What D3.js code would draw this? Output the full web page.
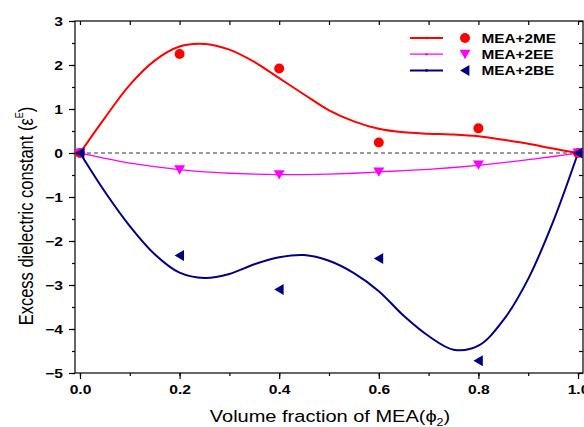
<!DOCTYPE html>
<html><head><meta charset="utf-8">
<script src="https://cdn.jsdelivr.net/npm/d3@7"></script>
<style>body{margin:0;background:#fff}svg{display:block}</style>
</head><body>
<script>
// Experimental points
const xPts = [0, 0.2, 0.4, 0.6, 0.8, 1.0];
const meY = [0, 2.25, 1.92, 0.24, 0.56, 0];
const eeY = [0, -0.38, -0.49, -0.43, -0.27, 0];
const beY = [0, -2.33, -3.1, -2.4, -4.72, 0];
// Fitted curves
const xFit = [0,0.05,0.1,0.15,0.2,0.25,0.3,0.35,0.4,0.45,0.5,0.55,0.6,0.65,0.7,0.75,0.8,0.85,0.9,0.95,1.0];
const meFit = [0,0.8,1.55,2.1,2.42,2.48,2.35,2.07,1.7,1.33,0.97,0.72,0.55,0.47,0.44,0.42,0.38,0.3,0.21,0.1,0];
const eeFit = [0,-0.12,-0.23,-0.31,-0.38,-0.43,-0.46,-0.48,-0.49,-0.49,-0.48,-0.46,-0.43,-0.4,-0.37,-0.33,-0.28,-0.22,-0.15,-0.08,0];
const beFit = [0,-0.88,-1.66,-2.3,-2.72,-2.84,-2.75,-2.53,-2.37,-2.32,-2.45,-2.73,-3.14,-3.7,-4.16,-4.47,-4.38,-3.8,-2.86,-1.56,0];
const seriesNames = ["MEA+2ME","MEA+2EE","MEA+2BE"];
const colors = ["#ff0000","#ff00ff","#000080"];
const yTicks = [-5,-4,-3,-2,-1,0,1,2,3];
const xTicks = [0,0.2,0.4,0.6,0.8,1.0];

const W = 584, H = 427;
const SX = 1.25; // horizontal stretch of the original picture's text
const svg = d3.select("body").append("svg").attr("width", W).attr("height", H);
const x = d3.scaleLinear().domain([-0.01, 1.01]).range([75, 583]);
const y = d3.scaleLinear().domain([-5, 3]).range([373, 21]);
const font = "Liberation Sans, Arial, sans-serif";

// frame
svg.append("rect").attr("x", x(-0.01)).attr("y", y(3)).attr("width", x(1.01)-x(-0.01)).attr("height", y(-5)-y(3))
  .attr("fill","none").attr("stroke","#000").attr("stroke-width",1.2);

// axes
const yMinor = d3.range(-5, 3.01, 0.5);
const xMinor = d3.range(0, 1.001, 0.1);
const gl = svg.append("g").attr("transform",`translate(${x(-0.01)},0)`)
  .call(d3.axisLeft(y).tickValues(yMinor).tickSize(3).tickFormat(""));
gl.append("g").call(d3.axisLeft(y).tickValues(yTicks).tickSize(6).tickFormat(d3.format("d")));
const gr = svg.append("g").attr("transform",`translate(${x(1.01)},0)`)
  .call(d3.axisLeft(y).tickValues(yMinor).tickSize(4).tickFormat(""));
const gb = svg.append("g").attr("transform",`translate(0,${y(-5)})`)
  .call(d3.axisBottom(x).tickValues(xMinor).tickSize(3).tickFormat(""));
gb.append("g").call(d3.axisBottom(x).tickValues(xTicks).tickSize(6).tickFormat(d3.format(".1f")));
const gt = svg.append("g").attr("transform",`translate(0,${y(3)})`)
  .call(d3.axisBottom(x).tickValues(xMinor).tickSize(4).tickFormat(""));
svg.selectAll(".domain").remove();
svg.selectAll(".tick line").attr("stroke","#000").attr("stroke-width",1.2);
gl.selectAll("text").attr("font-family",font).attr("font-weight","bold").attr("font-size",12.5).attr("fill","#000")
  .attr("x",-12/SX).attr("transform",`scale(${SX},1)`);
gb.selectAll("text").attr("font-family",font).attr("font-weight","bold").attr("font-size",12.5).attr("fill","#000")
  .attr("y",12).attr("transform",`scale(${SX},1)`);

// zero dashed line
svg.append("line").attr("x1",x(0)).attr("x2",x(1)).attr("y1",y(0)).attr("y2",y(0))
  .attr("stroke","#333").attr("stroke-width",1).attr("stroke-dasharray","4,3");

// curves
const fits = [meFit, eeFit, beFit];
const line = d3.line().x(d=>x(d[0])).y(d=>y(d[1])).curve(d3.curveCatmullRom.alpha(0.5));
fits.forEach((f,i)=>{
  svg.append("path").attr("d", line(xFit.map((v,j)=>[v,f[j]])))
    .attr("fill","none").attr("stroke",colors[i]).attr("stroke-width", i===1?1.3:2);
});

// markers
const triDown = s => `M${-s},${-s*0.8}L${s},${-s*0.8}L0,${s*0.9}Z`;
const triLeft = s => `M${-s*0.9},0L${s*0.8},${-s}L${s*0.8},${s}Z`;
function marker(g, i, cx, cy){
  if(i===0) g.append("circle").attr("cx",cx).attr("cy",cy).attr("r",5).attr("fill",colors[0]);
  else if(i===1) g.append("path").attr("d",triDown(5.5)).attr("transform",`translate(${cx},${cy})`).attr("fill",colors[1]);
  else g.append("path").attr("d",triLeft(5.5)).attr("transform",`translate(${cx},${cy})`).attr("fill",colors[2]);
}
const pts = [meY, eeY, beY];
const mg = svg.append("g");
pts.forEach((s,i)=>{ xPts.forEach((v,j)=>marker(mg, i, x(v), y(s[j]))); });

// legend
const lg = svg.append("g");
seriesNames.forEach((n,i)=>{
  const ly = 38 + i*16.2;
  lg.append("line").attr("x1",410).attr("x2",443).attr("y1",ly).attr("y2",ly).attr("stroke",colors[i]).attr("stroke-width",i===1?1.2:2);
  lg.append("circle").attr("cx",426.5).attr("cy",ly).attr("r",1.3).attr("fill",colors[i]);
  marker(lg, i, 465, ly);
  lg.append("text").attr("transform",`translate(481.5,${ly+4.7}) scale(1.18,1)`).text(n)
    .attr("font-family",font).attr("font-weight","bold").attr("font-size",13).attr("fill","#000");
});

// axis titles
const xt = svg.append("text").attr("transform",`translate(330,422) scale(${SX},1)`).attr("text-anchor","middle")
  .attr("font-family",font).attr("font-size",16).attr("fill","#000");
xt.append("tspan").text("Volume fraction of MEA(\u03d5");
xt.append("tspan").text("2").attr("font-size",10).attr("dy",4);
xt.append("tspan").text(")").attr("dy",-4);
const yt = svg.append("text").attr("transform",`translate(33,216) scale(${SX},1) rotate(-90)`).attr("text-anchor","middle")
  .attr("font-family",font).attr("font-size",16.5).attr("fill","#000");
yt.append("tspan").text("Excess dielectric constant (\u03b5");
yt.append("tspan").text("E").attr("font-size",9).attr("dy",-8);
yt.append("tspan").text(")").attr("dy",8);
</script>
</body></html>
